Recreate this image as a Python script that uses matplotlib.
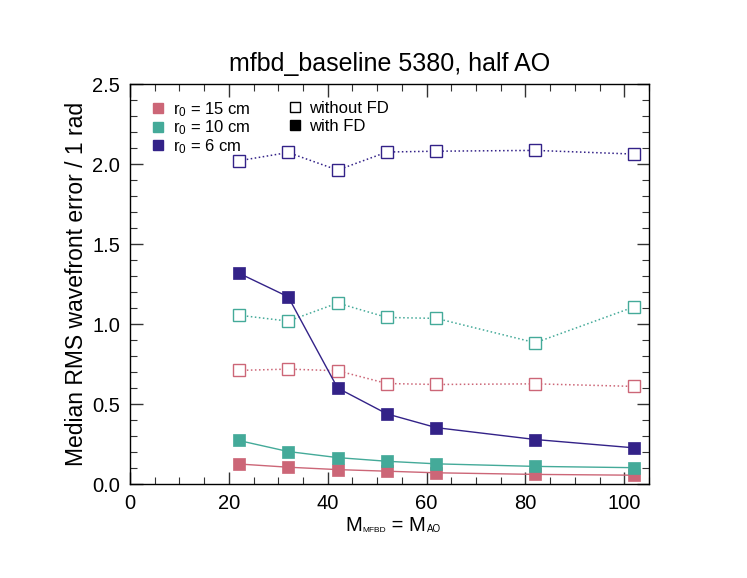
import matplotlib
matplotlib.use("Agg")
import matplotlib.pyplot as plt
from matplotlib.lines import Line2D
from matplotlib.ticker import MultipleLocator, FormatStrFormatter

plt.rcParams['font.family'] = ['Liberation Sans', 'DejaVu Sans']
plt.rcParams['mathtext.fontset'] = 'custom'
plt.rcParams['mathtext.rm'] = 'Liberation Sans'
plt.rcParams['mathtext.it'] = 'Liberation Sans'

# Data
modes = [22, 32, 42, 52, 62, 82, 102]
r0_labels = ['r$_0$ = 15 cm', 'r$_0$ = 10 cm', 'r$_0$ = 6 cm']
colors = ['#CC6677', '#44AA99', '#332288']

with_fd_15 = [0.125, 0.105, 0.090, 0.080, 0.070, 0.060, 0.055]
with_fd_10 = [0.272, 0.203, 0.165, 0.142, 0.126, 0.110, 0.102]
with_fd_6 = [1.318, 1.170, 0.600, 0.438, 0.352, 0.278, 0.226]

without_fd_15 = [0.710, 0.718, 0.708, 0.628, 0.622, 0.626, 0.610]
without_fd_10 = [1.055, 1.018, 1.131, 1.041, 1.035, 0.883, 1.107]
without_fd_6 = [2.020, 2.072, 1.962, 2.075, 2.080, 2.085, 2.062]

with_fd = [with_fd_15, with_fd_10, with_fd_6]
without_fd = [without_fd_15, without_fd_10, without_fd_6]

fig = plt.figure(figsize=(7.47, 5.78), dpi=100)
ax = fig.add_axes([130/747, 1-484/578, 519/747, 400/578])

for c, wf, wo in zip(colors, with_fd, without_fd):
    ax.plot(modes, wo, linestyle=':', color=c, linewidth=1.1,
            marker='s', markersize=8, markerfacecolor='white',
            markeredgecolor=c, markeredgewidth=1.0, zorder=2)
    ax.plot(modes, wf, linestyle='-', color=c, linewidth=1.0,
            marker='s', markersize=8, markerfacecolor=c,
            markeredgecolor=c, markeredgewidth=0.5, zorder=3)

ax.set_xlim(0, 105)
ax.set_ylim(0, 2.5)
ax.xaxis.set_major_locator(MultipleLocator(20))
ax.xaxis.set_minor_locator(MultipleLocator(5))
ax.yaxis.set_major_locator(MultipleLocator(0.5))
ax.yaxis.set_minor_locator(MultipleLocator(0.1))
ax.yaxis.set_major_formatter(FormatStrFormatter('%.1f'))
ax.tick_params(which='both', direction='in', top=True, right=True,
               labelsize=14.5, color='#333333')
ax.tick_params(which='major', length=9, width=1.0, pad=7)
ax.tick_params(which='minor', length=5, width=0.8)
for s in ax.spines.values():
    s.set_linewidth(1.0)

ax.set_title('mfbd_baseline 5380, half AO', fontsize=18, pad=9)
ax.set_ylabel('Median RMS wavefront error / 1 rad', fontsize=16.5, labelpad=3)

# x label built from pieces (large main letters, tiny subscripts)
t1 = fig.text(345/747, 1-531/578, 'M', fontsize=14.5, ha='left', va='baseline')
t2 = ax.annotate('MFBD', xy=(1, 0), xycoords=t1, xytext=(0.5, 0.5),
                 textcoords='offset points', fontsize=6, va='bottom', ha='left',
                 annotation_clip=False)
t3 = ax.annotate(' = M', xy=(1, 0), xycoords=(t2, t1), xytext=(0, 0),
                 textcoords='offset points', fontsize=14.5, va='bottom', ha='left',
                 annotation_clip=False)
t4 = ax.annotate('AO', xy=(1, 0), xycoords=(t3, t1), xytext=(0.5, 0.5),
                 textcoords='offset points', fontsize=7, va='bottom', ha='left',
                 annotation_clip=False)

h1 = [Line2D([], [], linestyle='none', marker='s', markersize=7.5,
             markerfacecolor=c, markeredgecolor=c) for c in colors]
leg1 = ax.legend(h1, r0_labels, loc='upper left', bbox_to_anchor=(0.029, 0.977),
                 frameon=False, fontsize=12, handlelength=0.8, handletextpad=0.5,
                 labelspacing=0.0, borderaxespad=0)
ax.add_artist(leg1)
h2 = [Line2D([], [], linestyle='none', marker='s', markersize=7.5,
             markerfacecolor='white', markeredgecolor='black', markeredgewidth=1.0),
      Line2D([], [], linestyle='none', marker='s', markersize=7.5,
             markerfacecolor='black', markeredgecolor='black')]
ax.legend(h2, ['without FD', 'with FD'], loc='upper left', bbox_to_anchor=(0.293, 0.975),
          frameon=False, fontsize=12, handlelength=0.8, handletextpad=0.4,
          labelspacing=0.2, borderaxespad=0)

fig.savefig('out.png', dpi=100)
